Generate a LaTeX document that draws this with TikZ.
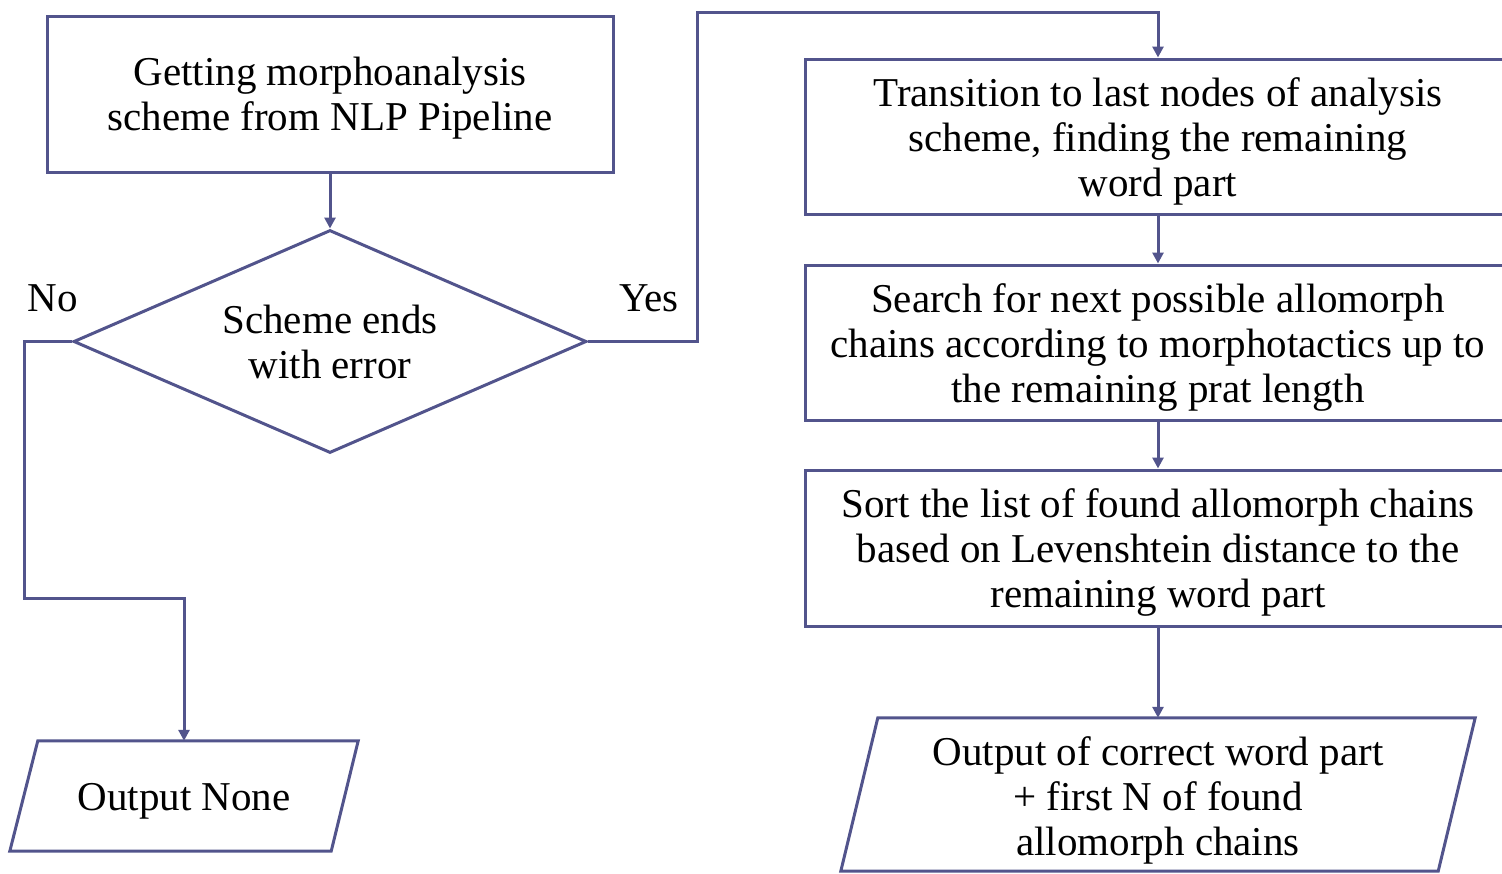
\documentclass[tikz,border=0pt]{standalone}
\usepackage{fontspec}
\setmainfont{Liberation Serif}
\usetikzlibrary{arrows.meta,shapes.geometric,calc}
\definecolor{flow}{RGB}{82,84,140}
\tikzset{
  every node/.style={font=\fontsize{41}{45}\selectfont, align=center},
  boxnode/.style={draw=flow, line width=3pt, rectangle, inner sep=0pt, minimum width=#1},
  decnode/.style={draw=flow, line width=3pt, diamond, inner sep=0pt, minimum width=513pt, minimum height=223pt},
  frame/.style={rectangle, inner sep=0pt},
  ioline/.style={draw=flow, line width=3pt, line join=miter},
  conn/.style={draw=flow, line width=3pt, -{Triangle[length=11pt,width=11pt]}},
  lbl/.style={inner sep=0pt}
}
\begin{document}
\begin{tikzpicture}[x=1pt,y=-1pt]
\useasboundingbox (0,0) rectangle (1502,873);
\node[boxnode=566pt, minimum height=156pt] (get) at (330,94) {};
\node (gettext) at ([yshift=-4pt]get.center) {Getting morphoanalysis\\scheme from NLP Pipeline};
\node[decnode] (dec) at (330,341.5) {};
\node (dectext) at (330,342) {Scheme ends\\with error};
\node[frame, minimum width=348pt, minimum height=110pt] (none) at (184,796) {};
\node (nonetext) at (184,801) {Output None};
\draw[ioline] ([xshift=28pt]none.north west) -- (none.north east) -- ([xshift=-27pt]none.south east) -- (none.south west) -- cycle;
\node[boxnode=706pt, minimum height=155pt] (trans) at (1158,136.5) {};
\node (transtext) at ([yshift=-5pt]trans.center) {Transition to last nodes of analysis\\scheme, finding the remaining\\word part};
\node[boxnode=706pt, minimum height=155pt] (search) at (1158,342.5) {};
\node (searchtext) at ([yshift=-5pt]search.center) {Search for next possible allomorph\\chains according to morphotactics up to\\the remaining prat length};
\node[boxnode=706pt, minimum height=156pt] (sort) at (1158,548) {};
\node (sorttext) at ([yshift=-4pt]sort.center) {Sort the list of found allomorph chains\\based on Levenshtein distance to the\\remaining word part};
\node[frame, minimum width=634pt, minimum height=153pt] (out) at (1158,794.5) {};
\node (outtext) at (1158,800) {Output of correct word part\\+ first N of found\\allomorph chains};
\draw[ioline] ([xshift=37pt]out.north west) -- (out.north east) -- ([xshift=-37pt]out.south east) -- (out.south west) -- cycle;
\node[lbl] (no) at (53,298) {No};
\node[lbl] (yes) at (649,298) {Yes};
\coordinate (nA) at (24,341.5);
\coordinate (nB) at (24,598);
\coordinate (nC) at (184,598);
\coordinate (yA) at (697,341.5);
\coordinate (yB) at (697,12);
\coordinate (yC) at (1158,12);
\draw[conn] (get.south) -- (dec.north);
\draw[conn] (dec.west) -- (nA) -- (nB) -- (nC) -- (none.north);
\draw[conn] (dec.east) -- (yA) -- (yB) -- (yC) -- (trans.north);
\draw[conn] (trans.south) -- (search.north);
\draw[conn] (search.south) -- (sort.north);
\draw[conn] (sort.south) -- (out.north);
\end{tikzpicture}
\end{document}
